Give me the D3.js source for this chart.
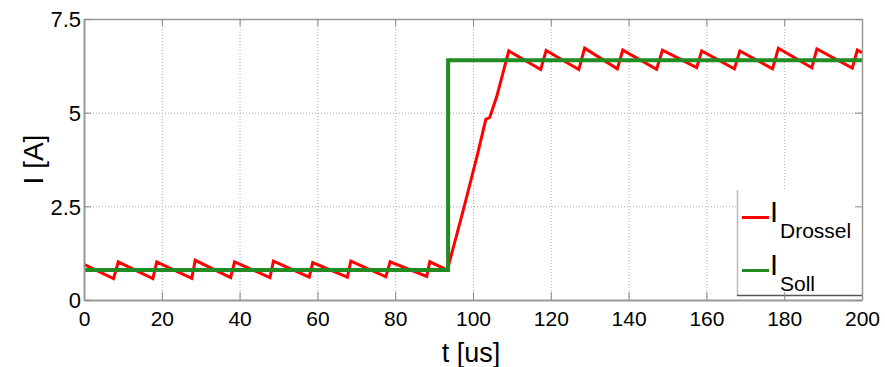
<!DOCTYPE html>
<html>
<head>
<meta charset="utf-8">
<script src="https://cdn.jsdelivr.net/npm/d3@7"></script>
<style>
	body { margin: 0; background: #fff; }
	text { font-family: "Liberation Sans", Arial, Helvetica, sans-serif; fill: #000; }
</style>
</head>
<body>
<div id="chart"></div>
<script>
// time axis in us, current in A
const tDrossel = [0, 7.6, 8.8, 17.7, 18.7, 27.7, 28.6, 37.7, 38.7, 47.8, 48.7, 57.9, 58.8, 67.7, 68.6, 77.6, 78.7, 88.1, 88.9,
	93.4, 97.5, 101, 103.3, 104.3, 106.1, 109.2,
	117.4, 118.8, 127.2, 128.7, 137.1, 138.5, 147.2, 148.7, 157.5, 158.8, 167.2, 168.6, 177.0, 178.5, 187.1, 188.4, 197.5, 198.8, 200];
const iDrossel = [0.95, 0.57, 1.02, 0.57, 1.02, 0.58, 1.06, 0.6, 1.02, 0.6, 1.04, 0.61, 1.0, 0.61, 1.04, 0.62, 1.02, 0.63, 1.02,
	0.8, 2.4, 3.82, 4.82, 4.87, 5.43, 6.65,
	6.15, 6.66, 6.15, 6.72, 6.17, 6.67, 6.16, 6.67, 6.2, 6.65, 6.17, 6.65, 6.17, 6.72, 6.2, 6.7, 6.19, 6.67, 6.6];
const tSoll = [0, 93.6, 93.6, 200];
const iSoll = [0.8, 0.8, 6.4, 6.4];

const xTicks = [0, 20, 40, 60, 80, 100, 120, 140, 160, 180, 200];
const yTicks = [0, 2.5, 5, 7.5];
const legendNames = ["Drossel", "Soll"];
const colors = ["#ff0000", "#228b22"];

const W = 885, H = 367;
const margin = { top: 19, right: 23, bottom: 67, left: 84 };

const svg = d3.select("#chart").append("svg")
	.attr("width", W)
	.attr("height", H);

const x = d3.scaleLinear().domain([0, 200]).range([margin.left, W - margin.right]);
const y = d3.scaleLinear().domain([0, 7.5]).range([H - margin.bottom, margin.top]);

const plotH = y(0) - y(7.5);
const plotW = x(200) - x(0);

// dotted grid
svg.append("g")
	.attr("transform", `translate(0,${y(0)})`)
	.call(d3.axisBottom(x).tickValues(xTicks.slice(1, -1)).tickSize(-plotH).tickFormat(""))
	.call(g => g.select(".domain").remove())
	.call(g => g.selectAll("line").attr("stroke", "#aaa").attr("stroke-dasharray", "1,2"));
svg.append("g")
	.attr("transform", `translate(${x(0)},0)`)
	.call(d3.axisLeft(y).tickValues(yTicks.slice(1, -1)).tickSize(-plotW).tickFormat(""))
	.call(g => g.select(".domain").remove())
	.call(g => g.selectAll("line").attr("stroke", "#aaa").attr("stroke-dasharray", "1,2"));

// series
const line = d3.line().x(d => x(d[0])).y(d => y(d[1]));
svg.append("path")
	.datum(d3.zip(tDrossel, iDrossel))
	.attr("fill", "none")
	.attr("stroke", colors[0])
	.attr("stroke-width", 3)
	.attr("d", line);
svg.append("path")
	.datum(d3.zip(tSoll, iSoll))
	.attr("fill", "none")
	.attr("stroke", colors[1])
	.attr("stroke-width", 4)
	.attr("d", line);

// legend box
const lg = svg.append("g");
lg.append("rect")
	.attr("x", 737).attr("y", 190)
	.attr("width", x(200) - 737).attr("height", 106)
	.attr("fill", "#fff");
lg.append("line").attr("x1", 737.5).attr("x2", 737.5).attr("y1", 190).attr("y2", 296)
	.attr("stroke", "#bbb").attr("stroke-width", 1.5);
lg.append("line").attr("x1", 737).attr("x2", x(200)).attr("y1", 295.5).attr("y2", 295.5)
	.attr("stroke", "#555").attr("stroke-width", 1.5);

legendNames.forEach((name, i) => {
	const row = lg.append("g").attr("transform", `translate(0,${i * 53})`);
	row.append("line")
		.attr("x1", 742).attr("x2", 769)
		.attr("y1", 217.5).attr("y2", 217.5)
		.attr("stroke", colors[i]).attr("stroke-width", 3);
	row.append("text")
		.attr("x", 770).attr("y", 221.5)
		.attr("font-size", 29)
		.text("I");
	row.append("text")
		.attr("x", 780).attr("y", 237.5)
		.attr("font-size", 21)
		.text(name);
});

// axes frame
const frameColor = "#999";
const styleAxis = g => {
	g.select(".domain").attr("stroke", frameColor).attr("stroke-width", 2);
	g.selectAll(".tick line").attr("stroke", "#888");
	g.selectAll("text").attr("font-size", 21).attr("fill", "#000")
		.attr("font-family", "Liberation Sans, Arial, sans-serif");
};

svg.append("g")
	.attr("transform", `translate(0,${y(0)})`)
	.call(d3.axisBottom(x).tickValues(xTicks).tickFormat(d => d).tickSizeInner(-8).tickSizeOuter(0).tickPadding(11))
	.call(styleAxis);
svg.append("g")
	.attr("transform", `translate(0,${y(7.5)})`)
	.call(d3.axisTop(x).tickValues(xTicks).tickSizeInner(-7).tickSizeOuter(0).tickFormat(""))
	.call(styleAxis)
	.call(g => g.select(".domain").attr("stroke-width", 1.5));
svg.append("g")
	.attr("transform", `translate(${x(0)},0)`)
	.call(d3.axisLeft(y).tickValues(yTicks).tickFormat(d => d).tickSizeInner(-7).tickSizeOuter(0).tickPadding(3))
	.call(styleAxis)
	.call(g => g.selectAll("text").attr("font-size", 22).attr("dy", "0.36em"));
svg.append("g")
	.attr("transform", `translate(${x(200)},0)`)
	.call(d3.axisRight(y).tickValues(yTicks).tickSizeInner(-7).tickSizeOuter(0).tickFormat(""))
	.call(styleAxis)
	.call(g => g.select(".domain").attr("stroke-width", 1.5));

// axis titles
svg.append("text")
	.attr("transform", `translate(43,${(y(0) + y(7.5)) / 2}) rotate(-90)`)
	.attr("text-anchor", "middle")
	.attr("font-size", 28)
	.text("I [A]");
svg.append("text")
	.attr("x", (x(0) + x(200)) / 2 - 2)
	.attr("y", 362)
	.attr("text-anchor", "middle")
	.attr("font-size", 27)
	.text("t [us]");
</script>
</body>
</html>
